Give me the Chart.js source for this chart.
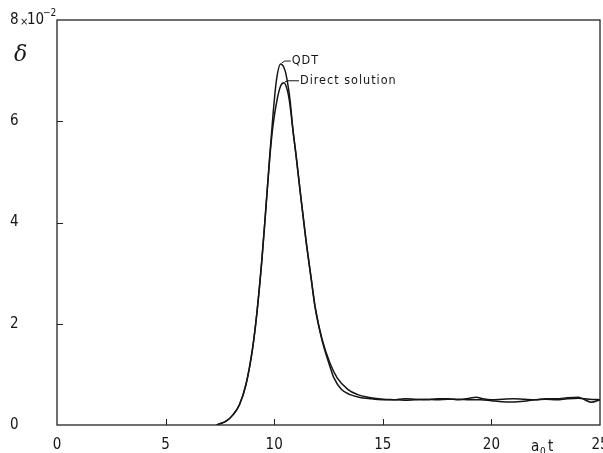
<!DOCTYPE html>
<html>
<head>
<meta charset="utf-8">
<script src="https://cdn.jsdelivr.net/npm/chart.js@4/dist/chart.umd.min.js"></script>
<style>
  html, body { margin: 0; padding: 0; background: #fff; }
  #wrap { width: 603px; height: 453px; position: relative; }
</style>
</head>
<body>
<div id="wrap"><canvas id="c" width="603" height="453"></canvas></div>
<script>
// ---- data (delta in units of 10^-2 vs a0 t) ----
const qdtTimes   = [7.35, 7.8, 8.1, 8.4, 8.7, 9.0, 9.2, 9.44, 9.62, 9.8, 9.94, 10.1, 10.3, 10.5, 10.62, 10.73, 10.87, 11.0, 11.2, 11.46, 11.7, 11.88, 12.2, 12.57, 12.75, 13.1, 13.5, 13.9, 14.4, 15, 15.5, 16, 16.5, 17, 17.5, 18, 18.5, 19, 19.3, 19.6, 20, 20.5, 21, 21.5, 22, 22.5, 23, 23.5, 24, 24.3, 24.6, 25];
const qdtValues  = [0, 0.08, 0.2, 0.4, 0.8, 1.5, 2.2, 3.3, 4.3, 5.35, 6.1, 6.8, 7.13, 7.0, 6.75, 6.42, 5.8, 5.35, 4.6, 3.66, 2.9, 2.33, 1.68, 1.15, 0.93, 0.7, 0.6, 0.55, 0.52, 0.5, 0.5, 0.52, 0.51, 0.5, 0.52, 0.52, 0.5, 0.53, 0.55, 0.52, 0.5, 0.51, 0.52, 0.51, 0.5, 0.52, 0.52, 0.54, 0.55, 0.5, 0.45, 0.5];
const directTimes  = [7.35, 7.8, 8.1, 8.4, 8.7, 9.0, 9.2, 9.44, 9.62, 9.8, 9.94, 10.13, 10.3, 10.45, 10.6, 10.7, 10.87, 11.0, 11.2, 11.46, 11.7, 11.88, 12.2, 12.57, 12.9, 13.4, 13.85, 14.3, 14.8, 15.5, 16, 16.5, 17, 17.5, 18, 18.5, 19, 19.5, 20, 20.5, 21, 21.5, 22, 22.5, 23, 23.5, 24, 24.5, 25];
const directValues = [0, 0.08, 0.2, 0.4, 0.8, 1.5, 2.2, 3.3, 4.3, 5.3, 5.9, 6.42, 6.7, 6.76, 6.62, 6.4, 5.8, 5.35, 4.6, 3.66, 2.9, 2.35, 1.7, 1.22, 0.93, 0.7, 0.6, 0.55, 0.52, 0.5, 0.49, 0.5, 0.51, 0.5, 0.51, 0.51, 0.5, 0.5, 0.48, 0.46, 0.455, 0.47, 0.5, 0.51, 0.5, 0.52, 0.53, 0.51, 0.5];
const xTicks = [0, 5, 10, 15, 20, 25];
const yTicks = [0, 2, 4, 6, 8];
const seriesNames = ['QDT', 'Direct solution'];

const FONT = '"Liberation Sans Narrow", "DejaVu Sans Condensed", "Arial Narrow", sans-serif';
const INK = '#151515';

function pts(ts, vs) { return ts.map((t, i) => ({ x: t, y: vs[i] })); }

const decor = {
  id: 'decor',
  afterDraw(chart) {
    const ctx = chart.ctx;
    const a = chart.chartArea;
    const xs = chart.scales.x, ys = chart.scales.y;
    ctx.save();
    // frame
    ctx.strokeStyle = '#222';
    ctx.lineWidth = 1.3;
    ctx.strokeRect(a.left, a.top, a.right - a.left, a.bottom - a.top);
    // inward ticks
    ctx.lineWidth = 1;
    xTicks.slice(1, -1).forEach(v => {
      const px = Math.round(xs.getPixelForValue(v)) + 0.5;
      ctx.beginPath(); ctx.moveTo(px, a.bottom); ctx.lineTo(px, a.bottom - 6); ctx.stroke();
    });
    yTicks.slice(1, -1).forEach(v => {
      const py = Math.round(ys.getPixelForValue(v)) + 0.5;
      ctx.beginPath(); ctx.moveTo(a.left, py); ctx.lineTo(a.left + 6, py); ctx.stroke();
    });
    ctx.fillStyle = INK;
    // exponent of the top y label: "×10^-2"
    const y8 = ys.getPixelForValue(8);
    ctx.textAlign = 'left'; ctx.textBaseline = 'middle';
    ctx.font = '11px ' + FONT;
    ctx.fillText('×', 20, y8 + 2);
    ctx.font = '15px ' + FONT;
    ctx.fillText('10', 27, y8);
    ctx.font = '10px ' + FONT;
    ctx.fillText('−2', 43, y8 - 7);
    // delta symbol
    ctx.font = 'italic 22px "DejaVu Serif", serif';
    ctx.fillText('δ', 14, 55);
    // x-axis title a0 t
    ctx.font = '15px ' + FONT;
    ctx.textBaseline = 'alphabetic';
    ctx.fillText('a', 531, 451);
    ctx.font = '10px ' + FONT;
    ctx.fillText('0', 540, 455);
    ctx.font = '15px ' + FONT;
    ctx.fillText('t', 548, 451);
    // series annotations with leader lines
    const qx = xs.getPixelForValue(10.3), qy = ys.getPixelForValue(7.13);
    const dx = xs.getPixelForValue(10.45), dy = ys.getPixelForValue(6.76);
    ctx.lineWidth = 1;
    ctx.strokeStyle = INK;
    ctx.beginPath(); ctx.moveTo(qx + 1, qy - 1); ctx.lineTo(qx + 4, qy - 3); ctx.lineTo(qx + 10, qy - 3); ctx.stroke();
    ctx.beginPath(); ctx.moveTo(dx + 1, dy - 1); ctx.lineTo(dx + 4, dy - 2); ctx.lineTo(dx + 15, dy - 2); ctx.stroke();
    ctx.font = '12.5px ' + FONT;
    ctx.textBaseline = 'middle';
    ctx.letterSpacing = '1px';
    ctx.fillText(seriesNames[0], qx + 11, qy - 3);
    ctx.fillText(seriesNames[1], dx + 16, dy - 2);
    ctx.restore();
  }
};

new Chart(document.getElementById('c'), {
  type: 'line',
  data: {
    datasets: [
      { label: seriesNames[0], data: pts(qdtTimes, qdtValues), borderColor: INK, borderWidth: 1.5, pointRadius: 0, cubicInterpolationMode: 'monotone', fill: false },
      { label: seriesNames[1], data: pts(directTimes, directValues), borderColor: INK, borderWidth: 1.5, pointRadius: 0, cubicInterpolationMode: 'monotone', fill: false }
    ]
  },
  options: {
    responsive: false,
    animation: false,
    events: [],
    layout: { padding: { left: 10, right: 3, top: 20, bottom: 0 } },
    plugins: { legend: { display: false }, tooltip: { enabled: false } },
    scales: {
      x: {
        type: 'linear', min: 0, max: 25,
        grid: { display: false }, border: { display: false },
        afterBuildTicks: s => { s.ticks = xTicks.map(v => ({ value: v })); },
        ticks: { color: INK, padding: 3, maxRotation: 0, autoSkip: false, font: { family: FONT, size: 15 } },
        afterFit: s => { s.height = 28; s.paddingLeft = 0; s.paddingRight = 0; }
      },
      y: {
        type: 'linear', min: 0, max: 8,
        grid: { display: false }, border: { display: false },
        afterBuildTicks: s => { s.ticks = yTicks.map(v => ({ value: v })); },
        ticks: {
          color: INK, crossAlign: 'far', autoSkip: false,
          font: { family: FONT, size: 15 }
        },
        afterFit: s => { s.width = 47; s.paddingTop = 0; s.paddingBottom = 0; }
      }
    }
  },
  plugins: [decor]
});
</script>
</body>
</html>
